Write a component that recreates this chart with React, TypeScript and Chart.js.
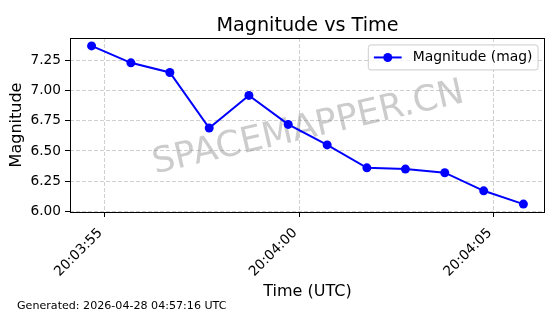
import React, { useEffect, useRef } from "react";
import { Chart, registerables } from "chart.js";

Chart.register(...registerables);

const FONT = "'DejaVu Sans', sans-serif";

const TITLE = "Magnitude vs Time";
const X_LABEL = "Time (UTC)";
const Y_LABEL = "Magnitude";
const SERIES_LABEL = "Magnitude (mag)";
const WATERMARK = "SPACEMAPPER.CN";
const FOOTER = "Generated: 2026-04-28 04:57:16 UTC";

const times = [
  "20:03:54.67",
  "20:03:55.68",
  "20:03:56.68",
  "20:03:57.69",
  "20:03:58.71",
  "20:03:59.72",
  "20:04:00.72",
  "20:04:01.74",
  "20:04:02.73",
  "20:04:03.74",
  "20:04:04.74",
  "20:04:05.76",
];
const magnitudes = [7.37, 7.23, 7.15, 6.69, 6.96, 6.72, 6.55, 6.36, 6.35, 6.32, 6.17, 6.06];
const xTickLabels = ["20:03:55", "20:04:00", "20:04:05"];
const yTicks = [6.0, 6.25, 6.5, 6.75, 7.0, 7.25];

const toSec = (t: string) => {
  const [h, m, s] = t.split(":");
  return Number(h) * 3600 + Number(m) * 60 + Number(s);
};

const xs = times.map(toSec);
const xTickVals = xTickLabels.map(toSec);
const xMinD = Math.min(...xs);
const xMaxD = Math.max(...xs);
const yMinD = Math.min(...magnitudes);
const yMaxD = Math.max(...magnitudes);
const xPad = (xMaxD - xMinD) * 0.05;
const yPad = (yMaxD - yMinD) * 0.05;

const BLUE = "#0000ff";
const GRID = "rgba(176,176,176,0.6)";

const decor = {
  id: "decor",
  beforeDatasetsDraw(chart: any) {
    const { ctx, chartArea: a } = chart;
    ctx.save();
    const fs = 35.5;
    ctx.translate((a.left + a.right) / 2, (a.top + a.bottom) / 2);
    ctx.rotate((-13 * Math.PI) / 180);
    ctx.font = `${fs}px ${FONT}`;
    ctx.fillStyle = "rgba(128,128,128,0.4)";
    ctx.textAlign = "center";
    ctx.textBaseline = "alphabetic";
    ctx.fillText(WATERMARK, 0, fs * 0.3645);
    ctx.restore();
  },
  afterDatasetsDraw(chart: any) {
    const { ctx, chartArea: a } = chart;
    ctx.save();
    // spines
    ctx.strokeStyle = "#000";
    ctx.lineWidth = 1;
    ctx.strokeRect(Math.round(a.left) + 0.5, Math.round(a.top) + 0.5, Math.round(a.right - a.left) - 1, Math.round(a.bottom - a.top));

    // legend
    const fs = 13.9;
    ctx.font = `${fs}px ${FONT}`;
    const tw = ctx.measureText(SERIES_LABEL).width;
    const pad = 0.4 * fs;
    const handleLen = 2 * fs;
    const textPad = 0.8 * fs;
    const w = pad + handleLen + textPad + tw + pad;
    const h = 25;
    const right = a.right - 0.5 * fs;
    const top = a.top + 0.5 * fs;
    const left = right - w;
    const r = 2.7;
    ctx.beginPath();
    ctx.moveTo(left + r, top);
    ctx.lineTo(right - r, top);
    ctx.arcTo(right, top, right, top + r, r);
    ctx.lineTo(right, top + h - r);
    ctx.arcTo(right, top + h, right - r, top + h, r);
    ctx.lineTo(left + r, top + h);
    ctx.arcTo(left, top + h, left, top + h - r, r);
    ctx.lineTo(left, top + r);
    ctx.arcTo(left, top, left + r, top, r);
    ctx.closePath();
    ctx.fillStyle = "rgba(255,255,255,0.8)";
    ctx.fill();
    ctx.strokeStyle = "#cccccc";
    ctx.lineWidth = 1;
    ctx.stroke();
    const cy = top + h / 2;
    const hx0 = left + pad;
    ctx.strokeStyle = BLUE;
    ctx.lineWidth = 2;
    ctx.beginPath();
    ctx.moveTo(hx0, cy);
    ctx.lineTo(hx0 + handleLen, cy);
    ctx.stroke();
    ctx.fillStyle = BLUE;
    ctx.beginPath();
    ctx.arc(hx0 + handleLen / 2, cy, 4.5, 0, Math.PI * 2);
    ctx.fill();
    ctx.fillStyle = "#000";
    ctx.textAlign = "left";
    ctx.textBaseline = "middle";
    ctx.fillText(SERIES_LABEL, hx0 + handleLen + textPad, cy);
    ctx.restore();
  },
  afterDraw(chart: any) {
    const { ctx, chartArea: a } = chart;
    const cx = (a.left + a.right) / 2;
    ctx.save();
    ctx.fillStyle = "#000";
    ctx.textBaseline = "alphabetic";
    ctx.textAlign = "center";
    ctx.font = `19.2px ${FONT}`;
    ctx.fillText(TITLE, cx, a.top - 7);
    ctx.font = `16px ${FONT}`;
    ctx.fillText(X_LABEL, cx, 296);
    ctx.save();
    ctx.translate(21, (a.top + a.bottom) / 2);
    ctx.rotate(-Math.PI / 2);
    ctx.fillText(Y_LABEL, 0, 0);
    ctx.restore();
    ctx.textAlign = "left";
    ctx.font = `11.1px ${FONT}`;
    ctx.fillText(FOOTER, 17, 309);
    ctx.restore();
  },
};

export default function App() {
  const ref = useRef<HTMLCanvasElement | null>(null);
  useEffect(() => {
    if (!ref.current) return;
    const chart = new Chart(ref.current, {
      type: "line",
      data: {
        datasets: [
          {
            label: SERIES_LABEL,
            data: xs.map((x, i) => ({ x, y: magnitudes[i] })),
            borderColor: BLUE,
            backgroundColor: BLUE,
            borderWidth: 2,
            pointRadius: 4.5,
            pointBackgroundColor: BLUE,
            pointBorderWidth: 0,
            tension: 0,
          },
        ],
      },
      options: {
        animation: false,
        responsive: false,
        maintainAspectRatio: false,
        devicePixelRatio: 1,
        layout: { padding: { top: 38, right: 15, left: 0, bottom: 0 } },
        plugins: {
          legend: { display: false },
          title: { display: false },
          tooltip: { enabled: false },
        },
        scales: {
          x: {
            type: "linear",
            min: xMinD - xPad,
            max: xMaxD + xPad,
            afterBuildTicks: (s: any) => {
              s.ticks = xTickVals.map((v) => ({ value: v }));
            },
            afterFit: (s: any) => {
              s.height = 102;
            },
            ticks: {
              autoSkip: false,
              minRotation: 45,
              maxRotation: 45,
              padding: 8,
              labelOffset: -4,
              color: "#000",
              font: { family: FONT, size: 13.7 },
              callback: (_v: any, i: number) => xTickLabels[i],
            },
            grid: { color: GRID, lineWidth: 1, tickColor: "#000", tickLength: 5, tickWidth: 1 },
            border: { display: false, dash: [4, 2] },
          },
          y: {
            type: "linear",
            min: yMinD - yPad,
            max: yMaxD + yPad,
            afterBuildTicks: (s: any) => {
              s.ticks = yTicks.map((v) => ({ value: v }));
            },
            afterFit: (s: any) => {
              s.width = 70;
            },
            ticks: {
              padding: 4,
              color: "#000",
              font: { family: FONT, size: 13.7 },
              callback: (v: any) => Number(v).toFixed(2),
            },
            grid: { color: GRID, lineWidth: 1, tickColor: "#000", tickLength: 5, tickWidth: 1 },
            border: { display: false, dash: [4, 2] },
          },
        },
      },
      plugins: [decor],
    });
    return () => chart.destroy();
  }, []);
  return (
    <div style={{ position: "fixed", left: 0, top: 0, width: 560, height: 314, background: "#fff" }}>
      <canvas ref={ref} width={560} height={314} />
    </div>
  );
}
